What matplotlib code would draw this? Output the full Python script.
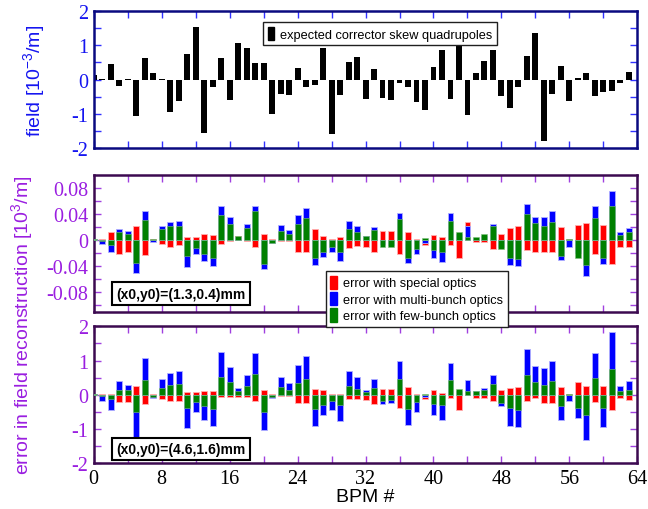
import numpy as np
import matplotlib
matplotlib.use("Agg")
from matplotlib import pyplot as plt
from matplotlib.patches import Rectangle

plt.rcParams['font.family'] = ['Liberation Sans', 'DejaVu Sans']
plt.rcParams['mathtext.fontset'] = 'custom'
plt.rcParams['mathtext.rm'] = 'Liberation Sans'
plt.rcParams['mathtext.it'] = 'Liberation Sans'

bpm = np.arange(64)

# expected corrector skew quadrupoles [1e-3/m]
expected = [0.12, 0.03, 0.46, -0.20, 0.03, -1.07, 0.63, 0.20, 0.03, -0.95,
            -0.63, 0.76, 1.53, -1.56, -0.22, 0.64, -0.60, 1.07, 0.93, 0.48,
            0.48, -1.00, -0.42, -0.45, 0.34, -0.21, -0.17, 0.91, -1.60, -0.46,
            0.50, 0.67, -0.58, 0.32, -0.55, -0.60, -0.09, -0.22, -0.67, -0.90,
            0.37, 0.88, -0.57, 1.00, -1.05, 0.19, 0.54, 0.88, -0.47, -0.83,
            -0.23, 0.70, 1.35, -1.81, -0.42, 0.40, -0.62, 0.06, 0.19, -0.47,
            -0.37, -0.32, -0.09, 0.22]

# case (x0,y0)=(1.3,0.4)mm
err1_special = [0.002, 0.001, 0.012, -0.022, -0.019, 0.022, -0.023, 0.001, -0.006, -0.010,
                -0.008, 0.005, 0.004, 0.009, 0.008, -0.006, -0.002, 0.007, -0.001, -0.011,
                0.009, 0.002, -0.002, -0.002, -0.019, -0.019, 0.017, 0.007, 0.002, 0.004,
                -0.012, -0.009, -0.011, -0.019, 0.014, 0.014, -0.022, 0.013, 0.001, -0.007,
                0.008, 0.004, -0.008, -0.027, 0.028, -0.003, -0.003, -0.013, 0.009, 0.018,
                0.021, -0.016, -0.018, -0.019, -0.018, 0.020, 0.001, 0.023, 0.026, -0.022,
                0.023, -0.037, -0.010, -0.010]
err1_multi = [0.001, -0.006, -0.019, 0.017, 0.014, -0.051, 0.045, -0.003, 0.021, 0.028,
              0.029, -0.041, -0.022, -0.032, -0.040, 0.053, 0.035, 0.004, 0.024, 0.053,
              -0.045, -0.004, 0.023, 0.016, 0.038, 0.049, -0.039, -0.026, -0.018, -0.032,
              0.030, 0.022, 0.007, 0.020, -0.006, -0.007, 0.042, -0.036, -0.022, -0.005,
              -0.027, -0.034, 0.041, 0.010, 0.022, 0.003, 0.006, 0.024, -0.010, -0.039,
              -0.040, 0.056, 0.036, 0.035, 0.044, -0.031, -0.010, -0.020, -0.055, 0.053,
              -0.037, 0.076, 0.013, 0.018]
err1_few = [0.001, -0.002, -0.008, 0.012, 0.010, -0.035, 0.031, 0.002, 0.017, 0.022,
            0.022, -0.025, -0.012, -0.022, -0.028, 0.038, 0.025, 0.006, 0.019, 0.044,
            -0.037, -0.004, 0.014, 0.009, 0.025, 0.034, -0.027, -0.019, -0.010, -0.019,
            0.017, 0.013, 0.007, 0.016, -0.010, -0.010, 0.032, -0.027, -0.013, 0.003,
            -0.016, -0.019, 0.029, 0.013, 0.004, 0.004, 0.009, 0.021, -0.014, -0.027,
            -0.029, 0.040, 0.027, 0.021, 0.028, -0.024, 0.002, -0.027, -0.039, 0.034,
            -0.027, 0.052, 0.008, 0.013]

# case (x0,y0)=(4.6,1.6)mm
err2_special = [0.03, 0.02, 0.03, -0.21, -0.21, 0.27, -0.28, 0.03, -0.12, -0.19,
                -0.17, 0.08, 0.07, 0.11, 0.10, -0.07, -0.07, -0.05, -0.05, -0.17,
                0.15, 0.02, -0.03, -0.03, -0.24, -0.24, 0.17, 0.13, 0.03, 0.03,
                -0.12, -0.12, -0.15, -0.26, 0.17, 0.17, -0.39, 0.24, 0.02, -0.13,
                0.13, 0.06, -0.09, -0.43, 0.30, -0.08, -0.08, -0.17, 0.13, 0.19,
                0.22, -0.19, -0.10, -0.24, -0.24, 0.22, 0.02, 0.37, 0.25, -0.21,
                0.27, -0.44, -0.10, -0.14]
err2_multi = [0.01, -0.17, -0.43, 0.39, 0.29, -1.23, 1.08, -0.10, 0.46, 0.64,
              0.70, -0.96, -0.50, -0.75, -0.92, 1.24, 0.81, 0.19, 0.59, 1.22,
              -1.04, -0.10, 0.53, 0.35, 0.86, 1.12, -0.92, -0.60, -0.44, -0.77,
              0.70, 0.51, 0.15, 0.47, -0.26, -0.24, 1.00, -0.87, -0.49, -0.06,
              -0.60, -0.73, 0.94, 0.12, 0.42, 0.10, 0.20, 0.58, -0.33, -0.92,
              -0.94, 1.34, 0.85, 0.79, 1.00, -0.75, -0.19, -0.67, -1.31, 1.22,
              -0.94, 1.84, 0.27, 0.40]
err2_few = [0.01, -0.03, -0.12, 0.15, 0.13, -0.50, 0.44, -0.05, 0.20, 0.30,
            0.32, -0.38, -0.21, -0.33, -0.41, 0.53, 0.37, 0.10, 0.27, 0.61,
            -0.50, -0.05, 0.22, 0.15, 0.35, 0.45, -0.41, -0.29, -0.17, -0.29,
            0.25, 0.17, 0.08, 0.21, -0.17, -0.15, 0.47, -0.41, -0.21, 0.02,
            -0.26, -0.29, 0.42, 0.17, 0.10, 0.10, 0.13, 0.32, -0.23, -0.39,
            -0.43, 0.58, 0.37, 0.29, 0.39, -0.34, 0.02, -0.39, -0.58, 0.49,
            -0.39, 0.76, 0.10, 0.15]

blue_txt = '#1515f0'
blue_sp = '#0a0a80'
purple_txt = '#9a1ee0'
purple_sp = '#3c0a50'
purple_tk = '#a040e0'
serif = 'Liberation Serif'

fig = plt.figure(figsize=(6.48, 5.1), dpi=100)
left, width = 0.1446, 0.839
ax1 = fig.add_axes([left, 0.708, width, 0.268])
ax2 = fig.add_axes([left, 0.3857, width, 0.2698])
ax3 = fig.add_axes([left, 0.0896, width, 0.2686])

bw = 0.7
ax1.bar(bpm, expected, width=bw, color='black', zorder=2)

for ax, r, b, g in [(ax2, err1_special, err1_multi, err1_few),
                    (ax3, err2_special, err2_multi, err2_few)]:
    ax.bar(bpm, r, width=bw, color='#ff0000', edgecolor='#ffb0b0', linewidth=0.6, zorder=2)
    ax.bar(bpm, b, width=bw, color='#0000ff', edgecolor='#b0b0ff', linewidth=0.6, zorder=3)
    ax.bar(bpm, g, width=bw, color='#008000', edgecolor='#80c080', linewidth=0.4, zorder=4)

xt = list(range(0, 65, 4))
for ax, spc, tkc, txc in [(ax1, blue_sp, '#3030ff', blue_txt),
                          (ax2, purple_sp, purple_tk, purple_txt),
                          (ax3, purple_sp, purple_tk, purple_txt)]:
    ax.set_xlim(0, 64)
    ax.set_xticks(xt)
    for s in ax.spines.values():
        s.set_color(spc)
        s.set_linewidth(1.8)
    ax.tick_params(axis='both', which='both', direction='in', top=True, right=True,
                   color=tkc, length=5, width=1.0, labelsize=14.5, labelcolor=txc, pad=4)

ax1.set_xticklabels([])
ax2.set_xticklabels([])
ax3.set_xticklabels([str(v) if v % 8 == 0 else '' for v in xt], family=serif, color='black')
ax3.tick_params(axis='x', labelcolor='black')

ax1.set_ylim(-2, 2)
ax1.set_yticks(np.arange(-2, 2.01, 0.5))
ax1.set_yticklabels(['-2', '', '-1', '', '0', '', '1', '', '2'], family=serif)

ax2.set_ylim(-0.111, 0.1005)
ax2.set_yticks(np.round(np.arange(-0.10, 0.081, 0.02), 2))
ax2.set_yticklabels(['', '-0.08', '', '-0.04', '', '0', '', '0.04', '', '0.08'], family=serif)

ax3.set_ylim(-2, 2)
ax3.set_yticks(np.arange(-2, 2.01, 0.5))
ax3.set_yticklabels(['-2', '', '-1', '', '0', '', '1', '', '2'], family=serif)

ax1.set_ylabel(r'field [10$^{-3}$/m]', fontsize=14, color=blue_txt)
ax1.yaxis.set_label_coords(-0.085, 0.5)
fig.text(0.034, 0.363, r'error in field reconstruction [10$^{3}$/m]', rotation=90,
         fontsize=14, color=purple_txt, ha='center', va='center')
ax3.set_xlabel('BPM #', fontsize=14, labelpad=0)

h_top = [Rectangle((0, 0), 1, 1, color='black')]
leg1 = ax1.legend(h_top, ['expected corrector skew quadrupoles'], loc='upper left',
                  bbox_to_anchor=(0.300, 0.965), fontsize=9.2, handlelength=0.5,
                  handleheight=1.2, handletextpad=0.5, borderpad=0.35,
                  fancybox=False, framealpha=1, edgecolor='#202020')
leg1.get_frame().set_linewidth(1.0)

h_mid = [Rectangle((0, 0), 1, 1, color=c) for c in ['#ff0000', '#0000ff', '#008000']]
leg2 = fig.legend(h_mid, ['error with special optics', 'error with multi-bunch optics',
                          'error with few-bunch optics'],
                  loc='upper left', bbox_to_anchor=(0.493, 0.479), fontsize=9.2,
                  handlelength=0.5, handleheight=1.2, handletextpad=0.5,
                  labelspacing=0.2, borderpad=0.35, fancybox=False, framealpha=1,
                  edgecolor='#202020')
leg2.get_frame().set_linewidth(1.0)

box = dict(boxstyle='square,pad=0.3', facecolor='white', edgecolor='black', linewidth=1.5)
ax2.text(0.042, 0.085, '(x0,y0)=(1.3,0.4)mm', transform=ax2.transAxes, fontsize=10,
         fontweight='bold', ha='left', va='bottom', bbox=box, zorder=6)
ax3.text(0.042, 0.055, '(x0,y0)=(4.6,1.6)mm', transform=ax3.transAxes, fontsize=10,
         fontweight='bold', ha='left', va='bottom', bbox=box, zorder=6)

fig.savefig('out.png', dpi=100)
